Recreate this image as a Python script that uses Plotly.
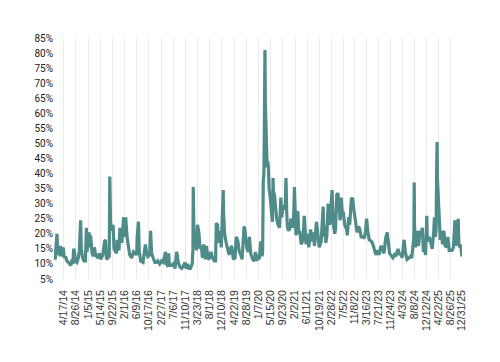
import plotly.graph_objects as go

# Series (date, level in %)
dates = [
"2014-01-02","2014-01-15","2014-01-24","2014-02-03","2014-02-10","2014-02-20","2014-03-03","2014-03-10","2014-03-14","2014-03-25",
"2014-04-11","2014-04-22","2014-05-05","2014-05-20","2014-06-05","2014-06-20","2014-07-03","2014-07-17","2014-07-25","2014-08-01",
"2014-08-08","2014-08-20","2014-09-05","2014-09-20","2014-10-01","2014-10-15","2014-10-22","2014-11-05","2014-11-20","2014-12-05",
"2014-12-16","2014-12-22","2015-01-06","2015-01-15","2015-01-22","2015-01-30","2015-02-15","2015-03-01","2015-03-11","2015-03-25",
"2015-04-15","2015-05-05","2015-05-20","2015-06-10","2015-06-29","2015-07-08","2015-07-20","2015-08-05","2015-08-18","2015-08-24",
"2015-08-27","2015-09-01","2015-09-15","2015-09-28","2015-10-09","2015-10-20","2015-11-03","2015-11-13","2015-12-01","2015-12-11",
"2015-12-20","2015-12-31","2016-01-07","2016-01-20","2016-02-01","2016-02-11","2016-02-25","2016-03-10","2016-03-25","2016-04-15",
"2016-05-05","2016-05-20","2016-06-08","2016-06-13","2016-06-27","2016-07-05","2016-07-20","2016-08-15","2016-09-09","2016-09-20",
"2016-10-05","2016-10-25","2016-11-04","2016-11-15","2016-12-05","2016-12-20","2017-01-05","2017-01-20","2017-02-10","2017-03-01",
"2017-03-20","2017-04-13","2017-04-25","2017-05-10","2017-05-17","2017-05-25","2017-06-15","2017-07-05","2017-07-25","2017-08-10",
"2017-08-17","2017-08-28","2017-09-15","2017-10-05","2017-10-25","2017-11-10","2017-11-20","2017-12-05","2017-12-20","2018-01-05",
"2018-01-25","2018-02-02","2018-02-05","2018-02-08","2018-02-14","2018-02-20","2018-03-01","2018-03-12","2018-03-23","2018-04-06",
"2018-04-20","2018-05-03","2018-05-15","2018-05-29","2018-06-15","2018-06-27","2018-07-15","2018-08-01","2018-08-14","2018-09-01",
"2018-09-20","2018-10-03","2018-10-11","2018-10-24","2018-11-02","2018-11-20","2018-12-03","2018-12-10","2018-12-24","2018-12-28",
"2019-01-08","2019-01-25","2019-02-10","2019-02-25","2019-03-10","2019-03-25","2019-04-12","2019-04-30","2019-05-13","2019-05-31",
"2019-06-15","2019-07-01","2019-07-15","2019-08-05","2019-08-15","2019-08-23","2019-09-05","2019-09-20","2019-10-02","2019-10-15",
"2019-11-05","2019-11-25","2019-12-05","2019-12-20","2020-01-03","2020-01-15","2020-01-31","2020-02-14","2020-02-20","2020-02-27",
"2020-03-05","2020-03-09","2020-03-12","2020-03-16","2020-03-18","2020-03-20","2020-03-26","2020-04-01","2020-04-09","2020-04-16",
"2020-04-22","2020-04-30","2020-05-06","2020-05-12","2020-05-26","2020-06-05","2020-06-11","2020-06-15","2020-06-26","2020-07-10",
"2020-07-20","2020-08-03","2020-08-20","2020-09-03","2020-09-14","2020-09-23","2020-10-06","2020-10-19","2020-10-28","2020-11-05",
"2020-11-13","2020-11-25","2020-12-10","2020-12-21","2021-01-05","2021-01-15","2021-01-27","2021-02-01","2021-02-12","2021-02-25",
"2021-03-04","2021-03-15","2021-03-25","2021-04-09","2021-04-30","2021-05-12","2021-05-20","2021-06-01","2021-06-18","2021-06-30",
"2021-07-19","2021-07-30","2021-08-19","2021-08-30","2021-09-20","2021-10-01","2021-10-20","2021-11-10","2021-11-26","2021-12-01",
"2021-12-10","2021-12-20","2021-12-30","2022-01-10","2022-01-24","2022-01-31","2022-02-10","2022-02-23","2022-03-07","2022-03-18",
"2022-04-04","2022-04-13","2022-04-26","2022-05-09","2022-05-20","2022-06-02","2022-06-13","2022-06-24","2022-07-06","2022-07-20",
"2022-08-10","2022-08-17","2022-09-01","2022-09-12","2022-09-30","2022-10-12","2022-10-27","2022-11-10","2022-11-30","2022-12-16",
"2022-12-30","2023-01-13","2023-01-31","2023-02-15","2023-02-28","2023-03-13","2023-03-24","2023-04-10","2023-04-25","2023-05-05",
"2023-05-19","2023-06-05","2023-06-20","2023-07-10","2023-07-25","2023-08-15","2023-08-25","2023-09-15","2023-10-03","2023-10-20",
"2023-10-31","2023-11-15","2023-12-07","2023-12-20","2024-01-05","2024-01-20","2024-02-13","2024-02-28","2024-03-15","2024-03-28",
"2024-04-16","2024-04-19","2024-05-01","2024-05-20","2024-06-10","2024-06-25","2024-07-10","2024-07-24","2024-08-01","2024-08-05",
"2024-08-08","2024-08-20","2024-09-06","2024-09-20","2024-10-08","2024-10-14","2024-10-31","2024-11-11","2024-11-25","2024-12-05",
"2024-12-18","2024-12-23","2025-01-10","2025-01-27","2025-02-14","2025-03-03","2025-03-10","2025-03-20","2025-03-28","2025-04-04",
"2025-04-08","2025-04-10","2025-04-21","2025-04-30","2025-05-12","2025-05-23","2025-06-05","2025-06-13","2025-06-20","2025-07-02",
"2025-07-20","2025-08-01","2025-08-15","2025-08-29","2025-09-15","2025-09-30","2025-10-10","2025-10-16","2025-10-24","2025-11-06",
"2025-11-20","2025-11-28","2025-12-10","2025-12-18","2025-12-26","2025-12-31",
]
values = [
12.5,11.5,16,20,14,13,15.5,12.5,16,12.5,
15.5,12,12.5,11,10.5,10,9.5,11.5,10,15,
14.5,11,10.5,12,14.5,24.5,15,12,11,11,
22,14,19.5,20.5,15.5,19.5,13.5,12.5,15.5,13,
12,13.5,11.5,13,17.5,18,11.5,12,12.5,39,
25,24,21,23,15,14,13.5,18,14.5,22,
18,17,22,25.5,19,25.5,19,15,13,12,
14,13.5,13,19,24,14.5,11,10.5,16.5,14,
12.5,13,21,13.5,11.5,10.5,10.5,11,10,11,
10.5,14,10,9,13.5,9.5,9.5,10,8.5,14,
13,10.5,9,8.5,9.5,10.5,8.5,10,8.5,8.5,
10,15,35.5,29,18,19,20.5,14.5,23,20.5,
15,16,12,16.5,11.5,16,11.5,12,14,12,
11,11,23.5,23,17,21,15.5,22,34.5,27,
20,17,15,13,15,16,11.5,12,19,17.5,
14,13,11.5,22.5,21,19,15,14,19,13.5,
11.5,11,14,11,13,11.5,17.5,12.5,14,37.5,
40,52,72,81,73,64,59,55,42,44,
42,35,34,32,27,24,38.5,34,33,27,
25,23,22,32,25.5,28.5,29,28,38.5,27,
22,21,22,25,24,22,35.5,30,19.5,27,
27.5,20,21,16.5,18,26,21,16.5,20,15.5,
21.5,17.5,20.5,16,24,21,15.5,17.5,27,29,
19,22.5,17,19.5,30,24,23,30,34.5,24,
20,21.5,33,33.5,28,24.5,32,27,27,23,
21.5,19.5,25.5,23,31.5,32,28,24,20.5,22.5,
21.5,19,19,18.5,20.5,25,21,18,17.5,17.5,
16.5,14.5,13,14.5,13,16,15.5,13.5,18.5,20.5,
17.5,13.5,12.5,12,13,12.5,15,13,13.5,12,
17.5,18,14,11.5,12,12.5,12,17,19,37,
23,15.5,21,16,21,19,22,14.5,14.5,13,
26,17.5,19,17.5,15,21,25.5,19,21.5,44,
50.5,39,32,24,18,21,16.5,20.5,21,16,
15.5,19,14.5,14.5,14.5,15.5,22,24.5,16,19,
25,16.5,15.5,16.5,13.5,12.5,
]

tick_dates = ["2014-04-17","2014-08-26","2015-01-05","2015-05-14","2015-09-22","2016-02-01","2016-06-09","2016-10-17",
              "2017-02-27","2017-07-06","2017-11-10","2018-03-23","2018-08-01","2018-12-10","2019-04-22","2019-08-28",
              "2020-01-07","2020-05-15","2020-09-23","2021-02-02","2021-06-11","2021-10-19","2022-02-28","2022-07-05",
              "2022-11-08","2023-03-16","2023-07-21","2023-11-24","2024-04-03","2024-08-08","2024-12-12","2025-04-22",
              "2025-08-26","2025-12-31"]
tick_labels = ["4/17/14","8/26/14","1/5/15","5/14/15","9/22/15","2/1/16","6/9/16","10/17/16",
               "2/27/17","7/6/17","11/10/17","3/23/18","8/1/18","12/10/18","4/22/19","8/28/19",
               "1/7/20","5/15/20","9/23/20","2/2/21","6/11/21","10/19/21","2/28/22","7/5/22",
               "11/8/22","3/16/23","7/21/23","11/24/23","4/3/24","8/8/24","12/12/24","4/22/25",
               "8/26/25","12/31/25"]
y_ticks = list(range(5, 90, 5))

fig = go.Figure(go.Scatter(x=dates, y=values, mode="lines",
                           line=dict(color="#4E8B89", width=3.2)))

fig.update_layout(
    width=500, height=362,
    margin=dict(l=54, r=38, t=38, b=83),
    paper_bgcolor="white", plot_bgcolor="white",
    showlegend=False,
)
fig.update_xaxes(
    type="date", range=[dates[0], dates[-1]],
    tickmode="array", tickvals=tick_dates, ticktext=tick_labels,
    tickangle=-90, showgrid=True, gridcolor="#ebebeb", gridwidth=1,
    showline=False, zeroline=False, ticks="", automargin=False,
    tickfont=dict(family="Liberation Sans, Arial", size=10.5, color="#333"),
    ticklabelstandoff=8,
)
fig.update_yaxes(
    range=[5, 85], tickmode="array", tickvals=y_ticks,
    ticktext=[f"{v}%" for v in y_ticks],
    showgrid=False, zeroline=False, showline=False, ticks="", automargin=False,
    tickfont=dict(family="Roboto", size=10, color="#222"),
)

fig.write_html("out.html", config={"displayModeBar": False},
               post_script="document.body.style.margin='0';document.body.style.padding='0';")
